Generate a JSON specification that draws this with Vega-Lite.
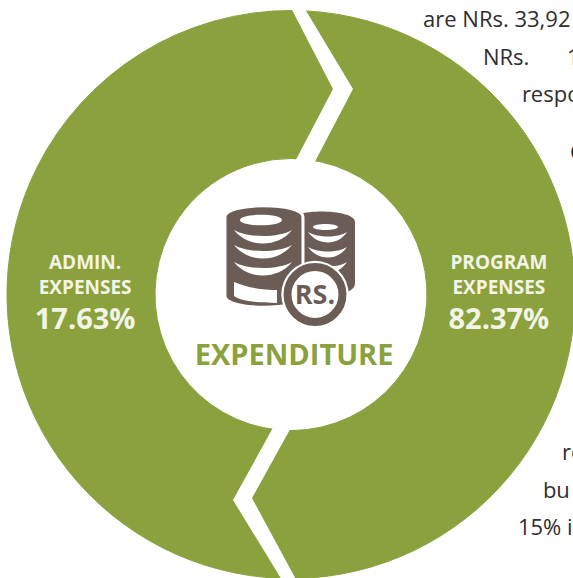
{
"$schema":"https://vega.github.io/schema/vega-lite/v6.json",
"width":573,"height":578,"autosize":{"type":"none"},"padding":0,"background":"white",
"view":{"stroke":null},
"encoding":{
"x":{"field":"x","type":"quantitative","axis":null,"scale":{"domain":[-102.46,99.30],"nice":false,"zero":false}},
"y":{"field":"y","type":"quantitative","axis":null,"scale":{"domain":[-99.82,103.70],"nice":false,"zero":false}}
},
"layer":[
{"data":{"values":[{"category":"Program expenses","share":82.37,"x":0,"y":0},{"category":"Admin. expenses","share":17.63,"x":0,"y":0}]},
"transform":[{"stack":"share","as":["share_start","share_end"]}],
"mark":{"type":"arc","radius":284,"radius2":136,"stroke":"#8aa13d","strokeWidth":1},
"encoding":{"theta":{"field":"share_start","type":"quantitative","stack":null,"scale":{"domain":[0,100],"range":[0,6.2832]}},"theta2":{"field":"share_end"},
"color":{"field":"category","type":"nominal","legend":null,"scale":{"range":["#8aa13d","#8aa13d"]}}}},
{"data":{"values":[{"x":0,"y":0}]},
"mark":{"type":"point","filled":true,"opacity":1,"color":"white","strokeWidth":0,"size":4,"shape":"M-2,-290.5 L11,-290.5 L62,-205.5 L17,-119.5 L-3,-119.5 L42,-205.5 Z"}},
{"data":{"values":[{"x":0,"y":0}]},
"mark":{"type":"point","filled":true,"opacity":1,"color":"white","strokeWidth":0,"size":4,"shape":"M-11,120.5 L7,120.5 L-39,203.5 L8,290.5 L-6,290.5 L-58,205.5 Z"}},
{"data":{"values":[{"x":-1.06,"y":9.33}]},
"mark":{"type":"point","filled":true,"opacity":1,"color":"#6b5d56","strokeWidth":0,"size":4,"shape":"M0,-46 C0,-60 67,-60 67,-46 L67,15 C67,22 60,24 50,26 L0,26 Z"}},
{"data":{"values":[{"x":-1.06,"y":9.33}]},
"mark":{"type":"point","filled":true,"opacity":1,"color":"white","strokeWidth":0,"size":4,"shape":"M25,-41 C25,-37 50,-37 50,-41 C50,-45 25,-45 25,-41 Z M20,-36 C30,-30 50,-30 59,-36 C50,-22 30,-22 20,-36 Z M20,-21 C30,-15 50,-15 59,-21 C50,-7 30,-7 20,-21 Z M20,-6 C30,0 50,0 59,-6 C50,8 30,8 20,-6 Z"}},
{"data":{"values":[{"x":-1.06,"y":9.33}]},
"mark":{"type":"point","filled":true,"opacity":1,"color":"#6b5d56","stroke":"white","strokeWidth":3,"size":4,"shape":"M-63,-51 C-63,-66 15,-66 15,-51 L15,28 C15,43 -63,43 -63,28 Z"}},
{"data":{"values":[{"x":-1.06,"y":9.33}]},
"mark":{"type":"point","filled":true,"opacity":1,"color":"white","strokeWidth":0,"size":4,"shape":"M-48,-48 C-48,-41 -6,-41 -6,-48 C-6,-55 -48,-55 -48,-48 Z M-54,-38 C-40,-30 -10,-30 4,-38 C-10,-20 -40,-20 -54,-38 Z M-54,-23 C-40,-15 -10,-15 4,-23 C-10,-5 -40,-5 -54,-23 Z M-54,-6 C-40,2 -10,2 4,-6 C-10,12 -40,12 -54,-6 Z M-54,14 C-40,20 -25,22 -11,22 L-11,35 C-30,35 -48,33 -54,28 Z"}},
{"data":{"values":[{"x":8.45,"y":0}]},
"mark":{"type":"point","filled":true,"opacity":1,"color":"white","strokeWidth":0,"shape":"circle","size":4536}},
{"data":{"values":[{"x":8.45,"y":0}]},
"mark":{"type":"point","filled":true,"opacity":1,"fill":"white","stroke":"#6b5d56","strokeWidth":8,"shape":"circle","size":3019}},
{"data":{"values":[{"t":"RS.","x":8.45,"y":-0.7}]},
"mark":{"type":"text","font":"Open Sans","fontWeight":"bold","fontSize":27,"color":"#6b5d56","align":"center","baseline":"middle"},
"encoding":{"text":{"field":"t"}}},
{"data":{"values":[{"t":"EXPENDITURE","x":1.1,"y":-21.6}]},
"mark":{"type":"text","font":"Open Sans","fontWeight":"bold","fontSize":29,"color":"#8aa13d","align":"center","baseline":"middle"},
"encoding":{"text":{"field":"t"}}},
{"data":{"values":[{"t":"ADMIN.","x":-72.5,"y":11.1},{"t":"EXPENSES","x":-72.5,"y":2.3},{"t":"PROGRAM","x":73.2,"y":11.1},{"t":"EXPENSES","x":73.2,"y":2.3}]},
"mark":{"type":"text","font":"Open Sans","fontWeight":"bold","fontSize":19,"color":"#f3f4e8","align":"center","baseline":"middle"},
"encoding":{"text":{"field":"t"}}},
{"data":{"values":[{"t":"17.63%","x":-72.5,"y":-8.9},{"t":"82.37%","x":73.2,"y":-8.9}]},
"mark":{"type":"text","font":"Open Sans","fontWeight":"bold","fontSize":29,"color":"#f3f4e8","align":"center","baseline":"middle"},
"encoding":{"text":{"field":"t"}}},
{"data":{"values":[{"t":"are NRs. 33,92","x":46.5,"y":94.2},{"t":"NRs.","x":67.6,"y":80.9},{"t":"1","x":97.2,"y":80.9},{"t":"respo","x":81.3,"y":67.8},{"t":"C","x":98.2,"y":47.4},{"t":"re","x":95.4,"y":-58.3},{"t":"bu","x":88.7,"y":-71.7},{"t":"15% i","x":79.9,"y":-84.7}]},
"mark":{"type":"text","font":"Open Sans","fontSize":22,"color":"#2e2e2e","align":"left","baseline":"alphabetic"},
"encoding":{"text":{"field":"t"}}}
]
}
